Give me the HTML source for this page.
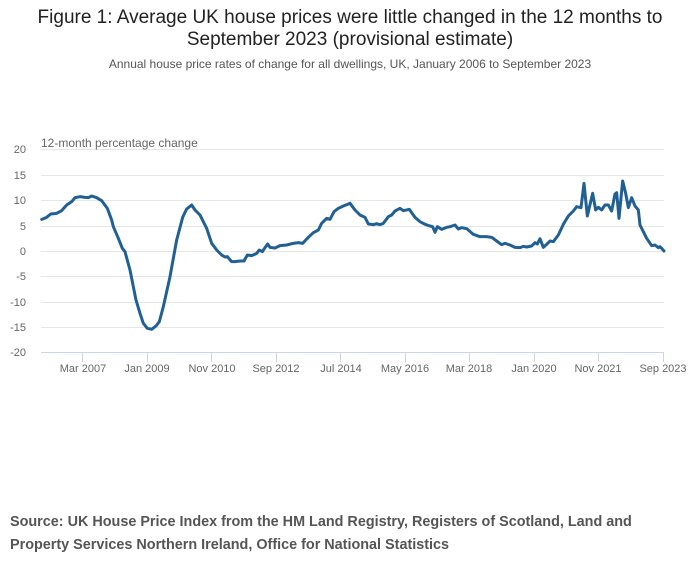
<!DOCTYPE html>
<html><head><style>
body{margin:0;width:700px;height:574px;background:#fff;font-family:"Liberation Sans",sans-serif;overflow:hidden}
.t{position:absolute;left:0;width:700px;text-align:center;color:#222;font-size:19px;line-height:22px;top:7px}
.s{position:absolute;left:0;width:700px;text-align:center;color:#555;font-size:12px;top:57px}
.src{position:absolute;left:10px;top:511px;font-size:14.4px;font-weight:bold;color:#555;line-height:23px}
</style></head><body>
<div class="t">Figure 1: Average UK house prices were little changed in the 12 months to<br>September 2023 (provisional estimate)</div>
<div class="s">Annual house price rates of change for all dwellings, UK, January 2006 to September 2023</div>
<svg width="700" height="574" style="position:absolute;left:0;top:0" font-family="Liberation Sans, sans-serif">
<g stroke="#e6e6e6" stroke-width="1">
<line x1="41" x2="664" y1="149.5" y2="149.5"/><line x1="41" x2="664" y1="175.5" y2="175.5"/>
<line x1="41" x2="664" y1="200.5" y2="200.5"/><line x1="41" x2="664" y1="226.5" y2="226.5"/>
<line x1="41" x2="664" y1="251.5" y2="251.5"/><line x1="41" x2="664" y1="276.5" y2="276.5"/>
<line x1="41" x2="664" y1="302.5" y2="302.5"/><line x1="41" x2="664" y1="327.5" y2="327.5"/>
</g>
<g stroke="#ccd6eb" stroke-width="1">
<line x1="41" x2="664" y1="352.5" y2="352.5"/>
<line x1="82.5" x2="82.5" y1="352" y2="362"/><line x1="147.5" x2="147.5" y1="352" y2="362"/>
<line x1="211.5" x2="211.5" y1="352" y2="362"/><line x1="276.5" x2="276.5" y1="352" y2="362"/>
<line x1="340.5" x2="340.5" y1="352" y2="362"/><line x1="405.5" x2="405.5" y1="352" y2="362"/>
<line x1="469.5" x2="469.5" y1="352" y2="362"/><line x1="534.5" x2="534.5" y1="352" y2="362"/>
<line x1="598.5" x2="598.5" y1="352" y2="362"/><line x1="663.5" x2="663.5" y1="352" y2="362"/>
</g>
<g font-size="11" fill="#666" text-anchor="end">
<text x="26" y="153">20</text><text x="26" y="179">15</text><text x="26" y="204">10</text>
<text x="26" y="230">5</text><text x="26" y="255">0</text><text x="26" y="280">-5</text>
<text x="26" y="306">-10</text><text x="26" y="331">-15</text><text x="26" y="356">-20</text>
</g>
<text x="41" y="147" font-size="12" fill="#666">12-month percentage change</text>
<g font-size="11" fill="#666" text-anchor="middle">
<text x="83" y="372">Mar 2007</text><text x="147" y="372">Jan 2009</text><text x="212" y="372">Nov 2010</text>
<text x="276" y="372">Sep 2012</text><text x="341" y="372">Jul 2014</text><text x="405" y="372">May 2016</text>
<text x="469" y="372">Mar 2018</text><text x="534" y="372">Jan 2020</text><text x="598" y="372">Nov 2021</text>
<text x="663" y="372">Sep 2023</text>
</g>
<g fill="none" stroke="#206095" stroke-width="3" stroke-linejoin="round" stroke-linecap="round">
<polyline vector-effect="non-scaling-stroke" transform="translate(30,130) scale(0.33333)" points="35,268 50,262 62,252 80,250 95,242 110,225 125,215 135,203 150,200 165,202 175,203 185,198 200,203 215,212 232,235 245,270 250,290 265,325 277,355 285,365 300,420 318,510 330,550 340,580 352,595 365,598 378,588 388,575 400,530 420,440 440,330 458,262 470,237 485,225 495,240 510,255 530,295 545,340 560,360 575,375 585,381 592,380 605,395 615,395 630,393 642,393 652,375 665,377 680,370 688,360 697,365 705,353 713,342 720,352 735,354 750,347 770,345 790,340 805,338 818,340 835,322 850,308 865,300 875,280 890,265 900,268 912,245 925,235 940,228 960,220"/>
<polyline vector-effect="non-scaling-stroke" transform="translate(350,130) scale(0.33333)" points="0,220 15,240 30,255 45,262 55,282 70,284 80,281 90,284 100,280 115,260 125,255 135,243 150,235 160,242 178,238 195,262 210,275 225,283 240,288 248,290 255,307 262,290 275,298 290,292 300,290 315,285 325,297 335,293 350,296 370,313 390,320 410,320 425,322 440,333 455,344 465,340 480,345 495,352 510,353 520,349 530,351 545,348 555,338 562,342 570,326 580,352 590,343 600,333 610,335 625,315 640,283 655,258 670,243 680,230 693,233 702,160 712,258 728,190 737,240 745,232 755,240 765,225 775,225 785,243 795,192 800,188 807,265 818,153 827,190 835,233 845,203 855,228 865,240 870,285 880,305 890,325 905,347 915,345 925,353 930,350 935,355 942,363"/>
</g>
</svg>
<div class="src">Source: UK House Price Index from the HM Land Registry, Registers of Scotland, Land and<br>Property Services Northern Ireland, Office for National Statistics</div>
</body></html>
